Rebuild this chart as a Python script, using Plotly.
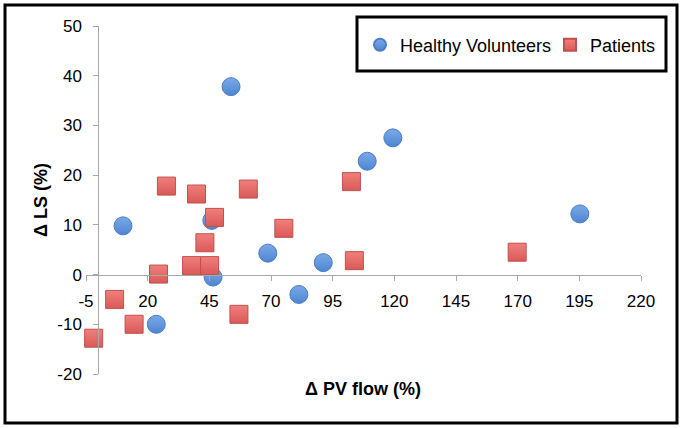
import plotly.graph_objects as go

# Healthy volunteers
hv_x = [10.0, 23.5, 46.5, 46.0, 53.8, 68.7, 81.3, 91.2, 109.0, 119.4, 195.2]
hv_y = [9.8, -10.0, -0.5, 10.9, 37.8, 4.3, -4.0, 2.4, 22.8, 27.5, 12.2]
# Patients
pt_x = [27.6, 39.8, 60.8, 47.1, 43.2, 37.8, 45.1, 24.4, 6.6, 14.5, -1.9, 57.0, 75.2, 102.6, 103.8, 169.8]
pt_y = [17.8, 16.2, 17.2, 11.5, 6.4, 1.8, 1.8, 0.1, -5.0, -10.0, -12.8, -8.0, 9.3, 18.7, 2.8, 4.5]

x_ticks = [-5, 20, 45, 70, 95, 120, 145, 170, 195, 220]
y_ticks = [-20, -10, 0, 10, 20, 30, 40, 50]
x_range = [-5, 220]
y_range = [-20, 50]

FONT = "Liberation Sans, Arial, Helvetica, sans-serif"
AXIS_GREY = "#a8a8a8"

fig = go.Figure()
fig.add_trace(go.Scatter(
    x=hv_x, y=hv_y, mode="markers", name="Healthy Volunteers", legend="legend",
    cliponaxis=False,
    marker=dict(symbol="circle", size=18, color="#7aa9e8",
                gradient=dict(type="vertical", color="#4e85d2"),
                line=dict(color="#4a7ec6", width=1)),
))
fig.add_trace(go.Scatter(
    x=pt_x, y=pt_y, mode="markers", name="Patients", legend="legend2",
    cliponaxis=False,
    marker=dict(symbol="square", size=18, color="#f07f7c",
                gradient=dict(type="vertical", color="#d95a57"),
                line=dict(color="#c0504d", width=1)),
))

W, H = 683, 428
ml, mr, mt, mb = 86, 42, 26, 54
pw, ph = W - ml - mr, H - mt - mb

def px_x(p):
    return (p - ml) / pw

def px_y(p):
    return (H - mb - p) / ph

x_pos = (0 - x_range[0]) / (x_range[1] - x_range[0])
y_pos = (0 - y_range[0]) / (y_range[1] - y_range[0])

leg_common = dict(orientation="h", xanchor="left", yanchor="middle",
                  bgcolor="rgba(0,0,0,0)", borderwidth=0, itemsizing="constant",
                  font=dict(size=18, family=FONT))

fig.update_layout(
    width=W, height=H,
    margin=dict(l=ml, r=mr, t=mt, b=mb),
    paper_bgcolor="white", plot_bgcolor="white",
    font=dict(family=FONT, size=17, color="black"),
    showlegend=True,
    legend=dict(x=px_x(360), y=px_y(45), **leg_common),
    legend2=dict(x=px_x(550), y=px_y(45), **leg_common),
    xaxis=dict(range=x_range, tickvals=x_ticks, ticktext=[str(v) for v in x_ticks],
               showgrid=False, zeroline=False, showline=True, linecolor=AXIS_GREY, linewidth=1,
               ticks="outside", ticklen=5, tickcolor=AXIS_GREY, anchor="free", position=y_pos,
               ticklabelstandoff=6, tickfont=dict(size=17)),
    yaxis=dict(range=y_range, tickvals=y_ticks, ticktext=[str(v) for v in y_ticks],
               showgrid=False, zeroline=False, showline=True, linecolor=AXIS_GREY, linewidth=1,
               ticks="outside", ticklen=5, tickcolor=AXIS_GREY, anchor="free", position=x_pos,
               ticklabelstandoff=8, tickfont=dict(size=17)),
    annotations=[
        dict(text="<b>Δ PV flow (%)</b>", xref="paper", yref="paper", x=px_x(363), y=px_y(389),
             xanchor="center", yanchor="middle", showarrow=False, font=dict(size=18, family=FONT)),
        dict(text="<b>Δ LS (%)</b>", xref="paper", yref="paper", x=px_x(41), y=px_y(200),
             xanchor="center", yanchor="middle", textangle=-90, showarrow=False,
             font=dict(size=18, family=FONT)),
    ],
    shapes=[
        dict(type="rect", xref="paper", yref="paper", x0=px_x(5), x1=px_x(677), y0=px_y(423), y1=px_y(5),
             line=dict(color="black", width=3), fillcolor="rgba(0,0,0,0)", layer="above"),
        dict(type="rect", xref="paper", yref="paper", x0=px_x(357), x1=px_x(666), y0=px_y(71), y1=px_y(17),
             line=dict(color="black", width=3), fillcolor="rgba(0,0,0,0)", layer="above"),
    ],
)

fig.write_html("out.html", config={"displayModeBar": False},
               post_script="document.body.style.margin='0';")
